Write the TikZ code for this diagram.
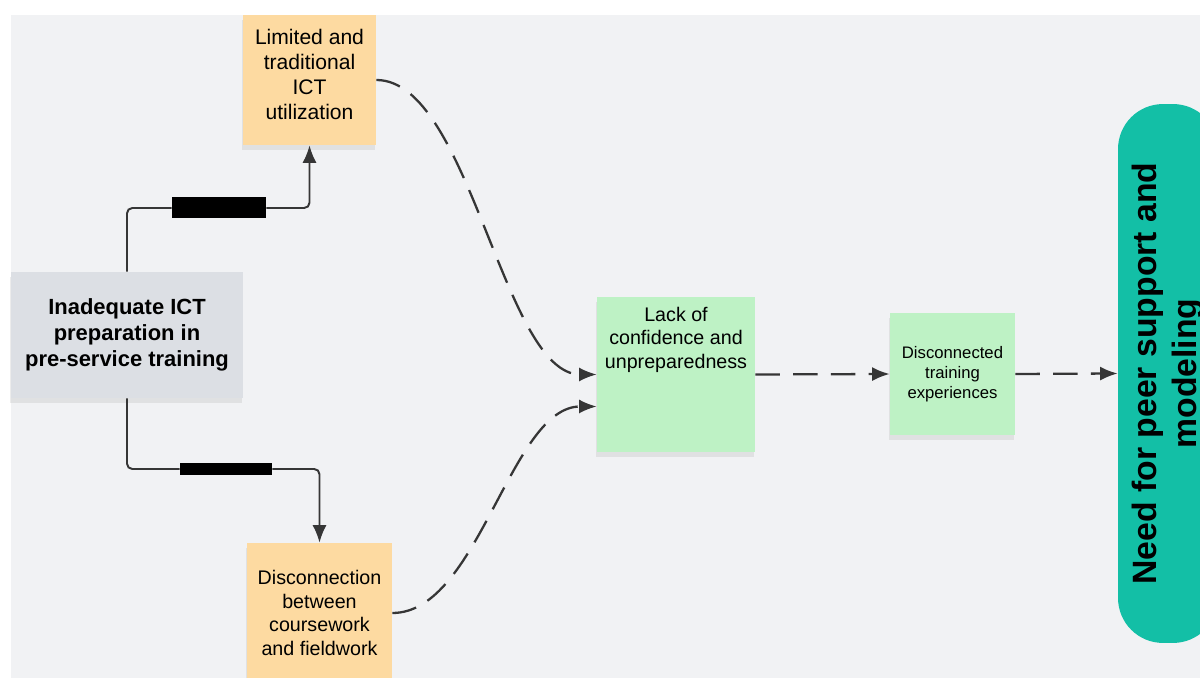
\documentclass[tikz,border=0pt]{standalone}
\usepackage{fontspec}
\setmainfont{Liberation Sans}
\usetikzlibrary{arrows.meta, shadows}

\definecolor{canvas}{HTML}{F1F2F4}
\definecolor{peach}{HTML}{FDDAA1}
\definecolor{slate}{HTML}{DCDFE4}
\definecolor{mint}{HTML}{BEF2C5}
\definecolor{tealfill}{HTML}{13BFA6}
\definecolor{ink}{HTML}{363636}

\begin{document}
\begin{tikzpicture}[x=0.02cm, y=-0.02cm, >={Latex[length=10pt,width=8pt]},
    note/.style={rectangle, inner sep=0pt, align=center, text=black,
        drop shadow={shadow xshift=-0.5pt, shadow yshift=-3pt, opacity=0.15}},
    bar/.style={rectangle, fill=black, inner sep=0pt},
    link/.style={draw=ink, line width=1.1pt, rounded corners=3pt},
    flow/.style={draw=ink, line width=1.3pt, dash pattern=on 14pt off 7.5pt}]

    \useasboundingbox (0, 0) rectangle (1200, 678);
    \clip (0, 0) rectangle (1200, 678);
    \fill[canvas] (11, 15) rectangle (1200, 678);

    % Nodes
    \node at (309.5, 80) (Use) [note, fill=peach, minimum width=2.66cm, minimum height=2.6cm, font=\fontsize{12}{14.2}\selectfont] {\parbox[c][2.04cm][t]{2.66cm}{\centering Limited and\\traditional\\ICT\\utilization}};

    \node at (127, 335) (Inad) [note, fill=slate, minimum width=4.64cm, minimum height=2.52cm, font=\bfseries\fontsize{12.5}{14.8}\selectfont] {Inadequate ICT\\preparation in\\pre-service training};

    \node at (319.5, 613) (Disc) [note, fill=peach, minimum width=2.9cm, minimum height=2.8cm, font=\fontsize{11.2}{13.3}\selectfont] {Disconnection\\between\\coursework\\and fieldwork};

    \node at (676, 374.5) (Conf) [note, fill=mint, minimum width=3.16cm, minimum height=3.1cm, font=\fontsize{11.2}{13.4}\selectfont] {\parbox[c][2.7cm][t]{3.16cm}{\centering Lack of\\confidence and\\unpreparedness}};

    \node at (952.5, 374) (Exp) [note, fill=mint, minimum width=2.5cm, minimum height=2.44cm, font=\fontsize{9.5}{11.4}\selectfont] {Disconnected\\training\\experiences};

    \node at (1168, 373.5) (Need) [fill=tealfill, rounded corners=0.9cm, rotate=90, minimum width=10.78cm, minimum height=2cm, inner sep=0pt, align=center, font=\bfseries\fontsize{19.2}{22.8}\selectfont] {Need for peer support and\\modeling};

    \node at (219, 208) (Bar1) [bar, minimum width=1.88cm, minimum height=0.42cm] {};
    \node at (226, 469) (Bar2) [bar, minimum width=1.84cm, minimum height=0.26cm] {};

    % Arrows
    \draw[link, ->] (Inad.north) |- (Bar1) -| (Use.south);
    \draw[link, ->] (Inad.south) |- (Bar2) -| (Disc.north);

    \draw[flow, ->] (Use.east) to[out=0, in=180, looseness=0.65] (Conf.west);
    \draw[flow, ->] (Disc.east) to[out=0, in=180, looseness=0.76] ([yshift=-0.64cm]Conf.west);

    \draw[flow, ->] (Conf.east) -- (Exp.west);
    \draw[flow, ->] (Exp.east) -- (Need.north);

\end{tikzpicture}
\end{document}
